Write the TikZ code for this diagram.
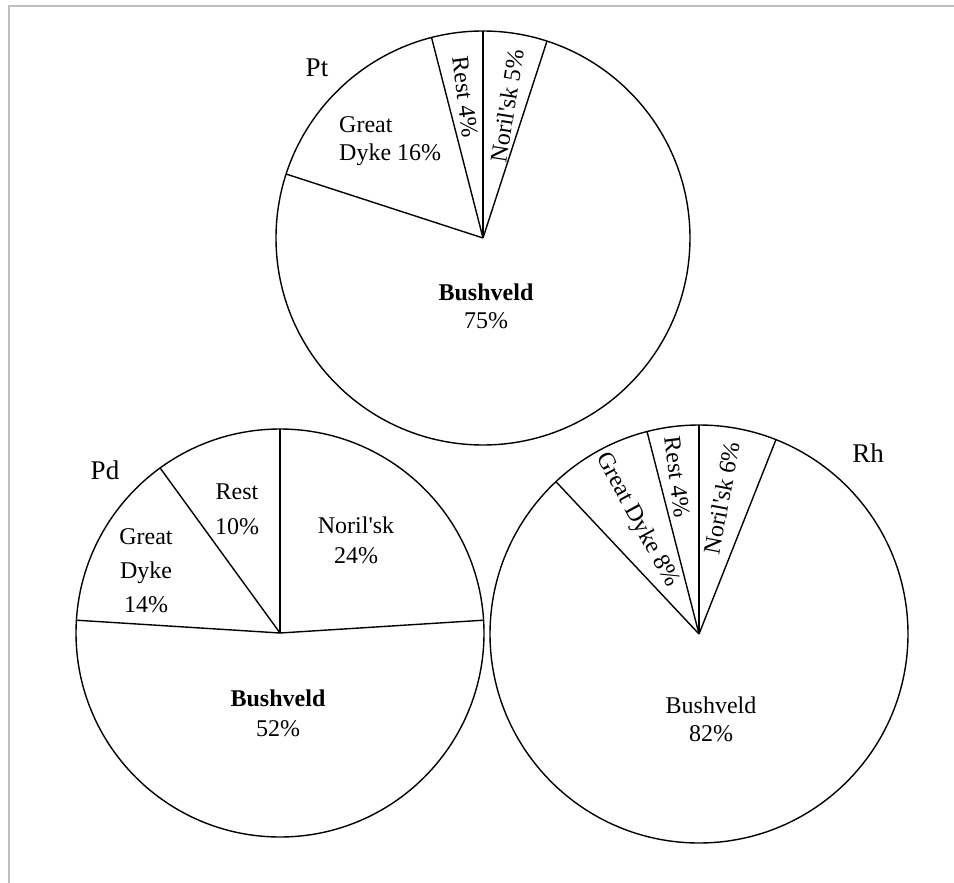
\documentclass[tikz,border=0pt]{standalone}
\usepackage{fontspec}
\setmainfont{Liberation Serif}[Ligatures=TeXOff]
\begin{document}
\begin{tikzpicture}[x=1pt,y=1pt,
  pie/.style={line width=1.4pt,black},
  lbl/.style={font=\fontsize{24}{28}\selectfont,align=center,inner sep=0pt},
  bold/.style={font=\fontsize{24}{28}\selectfont\bfseries,align=center,inner sep=0pt},
  title/.style={font=\fontsize{27}{30}\selectfont,inner sep=0pt},
  frame/.style={line width=2pt,black!25}]
\useasboundingbox (0,-883) rectangle (954,0);
\draw[frame] (9,-883) -- (9,-6) -- (954,-6);
% ---------- Pt ----------
\coordinate (ptc) at (483,-238);
\draw[pie] (ptc) circle (207);
\draw[pie] (ptc) -- ++(90:207);
\draw[pie] (ptc) -- ++(72:207);
\draw[pie] (ptc) -- ++(104.4:207);
\draw[pie] (ptc) -- ++(162:207);
\node[title] (ptt) at (317,-68) {Pt};
\node[lbl,anchor=west,align=left] (ptgd) at (339,-141) {Great\\Dyke 16\%};
\node[lbl,rotate=-82.8] (ptre) at (465,-97) {Rest 4\%};
\node[lbl,rotate=81] (ptno) at (507,-106) {Noril'sk 5\%};
\node[bold] (ptbu) at (486,-306) {Bushveld\\\mdseries 75\%};
% ---------- Pd ----------
\coordinate (pdc) at (280,-633);
\draw[pie] (pdc) circle (204);
\draw[pie] (pdc) -- ++(90:204);
\draw[pie] (pdc) -- ++(3.6:204);
\draw[pie] (pdc) -- ++(126:204);
\draw[pie] (pdc) -- ++(176.4:204);
\node[title] (pdt) at (105,-470) {Pd};
\node[lbl,font=\fontsize{24}{35}\selectfont] (pdre) at (237,-509) {Rest\\10\%};
\node[lbl,font=\fontsize{24}{30}\selectfont] (pdno) at (356,-540) {Noril'sk\\24\%};
\node[lbl,font=\fontsize{24}{34}\selectfont] (pdgd) at (146,-571) {Great\\Dyke\\14\%};
\node[bold,font=\fontsize{24}{30}\selectfont\bfseries] (pdbu) at (278,-713) {Bushveld\\\mdseries 52\%};
% ---------- Rh ----------
\coordinate (rhc) at (699,-634);
\draw[pie] (rhc) circle (209);
\draw[pie] (rhc) -- ++(90:209);
\draw[pie] (rhc) -- ++(68.4:209);
\draw[pie] (rhc) -- ++(104.4:209);
\draw[pie] (rhc) -- ++(133.2:209);
\node[title] (rht) at (868,-453) {Rh};
\node[lbl,rotate=-61.2] (rhgd) at (637,-520) {Great Dyke 8\%};
\node[lbl,rotate=-82.8] (rhre) at (677,-477) {Rest 4\%};
\node[lbl,rotate=79.2] (rhno) at (722,-498) {Noril'sk 6\%};
\node[lbl] (rhbu) at (711,-719) {Bushveld\\82\%};
\end{tikzpicture}
\end{document}
